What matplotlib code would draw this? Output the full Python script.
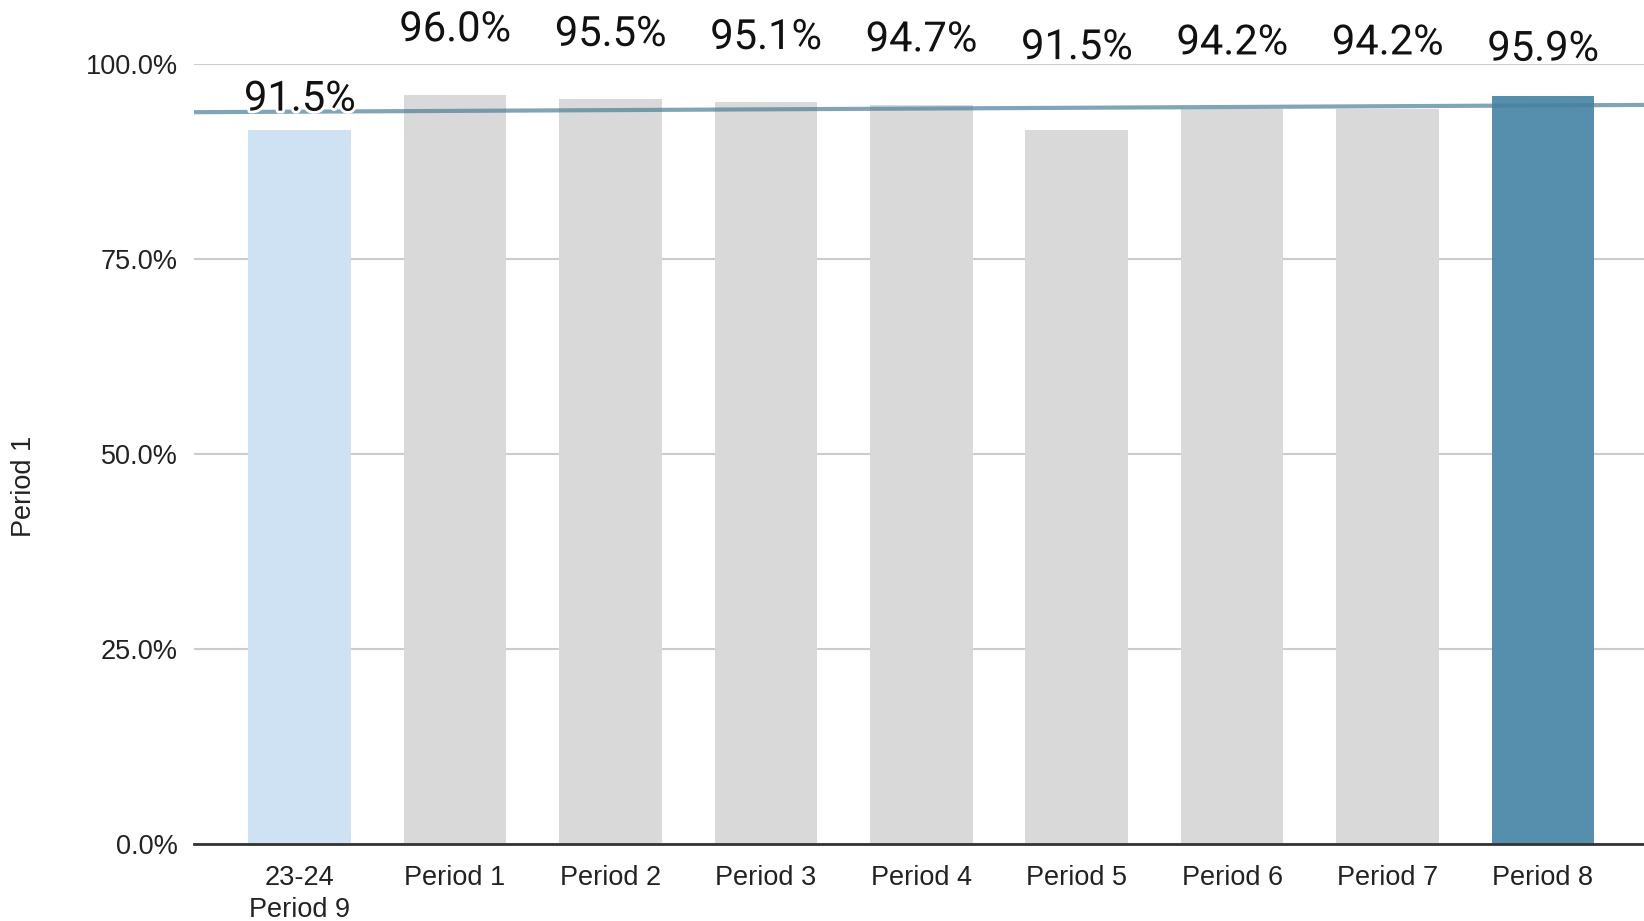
import numpy as np
import matplotlib
matplotlib.use("Agg")
import matplotlib.pyplot as plt
import matplotlib.patheffects as pe
from matplotlib.ticker import FuncFormatter

categories = ["23-24\nPeriod 9", "Period 1", "Period 2", "Period 3", "Period 4",
              "Period 5", "Period 6", "Period 7", "Period 8"]
values = [91.5, 96.0, 95.5, 95.1, 94.7, 91.5, 94.2, 94.2, 95.9]
bar_colors = ["#cfe2f3"] + ["#d9d9d9"] * 7 + ["#568fae"]
y_ticks = [0, 25, 50, 75, 100]
y_label = "Period 1"

# vertical placement of value labels (data units, layout only)
label_y = [95.5, 104.4, 103.8, 103.4, 103.1, 102.1, 102.7, 102.7, 101.9]

W, H = 1644, 921
fig = plt.figure(figsize=(W / 100, H / 100), dpi=100)
ax = fig.add_axes([194 / W, 1 - 844 / H, (W - 194) / W, (844 - 64) / H])

x = np.arange(len(categories))
ax.bar(x, values, width=0.66, color=bar_colors, zorder=2)

ax.set_xlim(-0.68, len(categories) - 0.35)
ax.set_ylim(0, 100)

# trendline
slope, intercept = np.polyfit(x, values, 1)
xl = np.array(ax.get_xlim())
ax.plot(xl, slope * xl + intercept, color="#4a7f98", lw=3, alpha=0.7,
        zorder=3, solid_capstyle="butt", clip_on=False)

for xi, v, ly in zip(x, values, label_y):
    ax.text(xi, ly, f"{v:.1f}%", ha="center", va="center", fontsize=30,
            family="Roboto", color="#111111", zorder=5, clip_on=False,
            path_effects=[pe.withStroke(linewidth=4, foreground="white")])

ax.set_yticks(y_ticks)
ax.yaxis.set_major_formatter(FuncFormatter(lambda v, p: f"{v:.1f}%"))
ax.set_xticks(x)
ax.set_xticklabels(categories)
ax.tick_params(axis="both", length=0, labelsize=19.5, colors="#222222")
ax.tick_params(axis="y", pad=11.5)
ax.tick_params(axis="x", pad=15)
for lab in ax.get_xticklabels() + ax.get_yticklabels():
    lab.set_family("Liberation Sans")
    lab.set_linespacing(1.3)

ax.grid(axis="y", color="#cccccc", lw=1.5, zorder=0)
ax.set_axisbelow(True)
for s in ["top", "right", "left"]:
    ax.spines[s].set_visible(False)
ax.spines["bottom"].set_color("#333333")
ax.spines["bottom"].set_linewidth(2)
ax.spines["bottom"].set_zorder(4)

ax.set_ylabel(y_label, fontsize=19.5, family="Liberation Sans", color="#222222")
ax.yaxis.set_label_coords(-0.108, 0.458)

fig.savefig("out.png", dpi=100, facecolor="white")
